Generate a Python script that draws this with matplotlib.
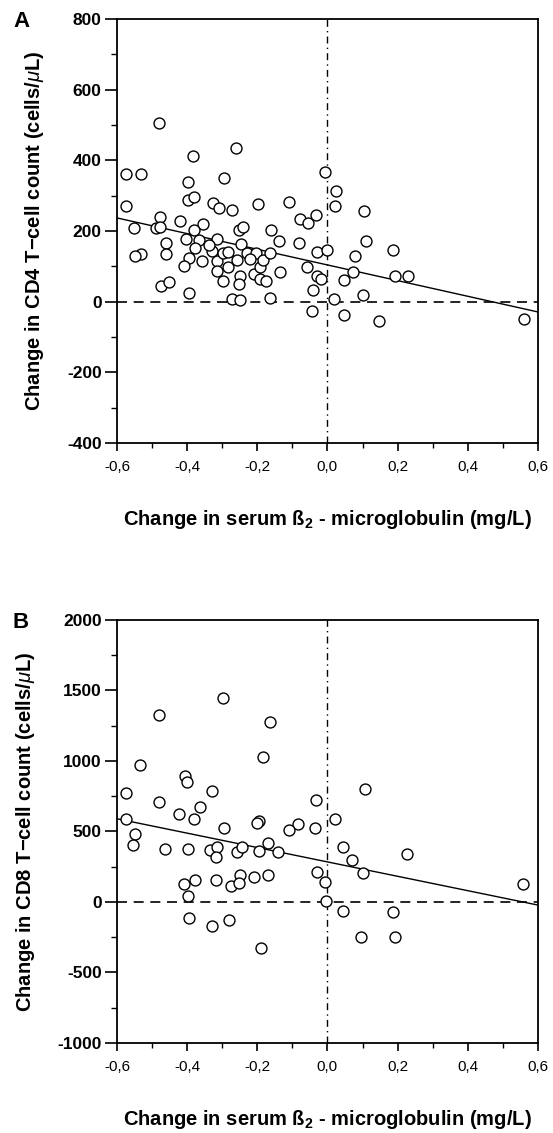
import numpy as np
import matplotlib
matplotlib.use("Agg")
import matplotlib.pyplot as plt
from matplotlib.ticker import MultipleLocator, FuncFormatter

# datos (panel A: CD4, panel B: CD8)
cd4_x = [-0.479, -0.262, -0.382, -0.574, -0.531, -0.008, -0.398, -0.294, 0.024, -0.574,
         -0.398, -0.381, -0.325, -0.309, -0.271, -0.197, -0.109, 0.023, 0.103, -0.478,
         -0.420, -0.078, -0.056, -0.034, -0.552, -0.488, -0.478, -0.356, -0.380, -0.161,
         -0.251, -0.240, -0.461, -0.402, -0.316, -0.139, -0.082, -0.246, -0.366, -0.377,
         -0.461, -0.532, -0.549, -0.394, -0.410, -0.358, -0.329, -0.316, -0.316, -0.299,
         -0.283, -0.283, -0.299, -0.259, -0.249, -0.251, -0.271, -0.249, -0.228, -0.210,
         -0.203, -0.192, -0.183, -0.192, -0.176, -0.164, -0.165, -0.134, -0.059, -0.030,
         -0.031, -0.019, -0.040, -0.002, 0.018, -0.474, -0.451, -0.394, 0.079, 0.109,
         0.187, 0.046, 0.074, 0.194, 0.231, 0.100, -0.043, 0.047, 0.147, 0.560,
         -0.338, -0.222]
cd4_y = [507, 434, 413, 360, 360, 368, 339, 349, 314, 271,
         288, 297, 278, 265, 260, 277, 282, 272, 257, 240,
         229, 235, 224, 245, 208, 209, 210, 220, 203, 203,
         204, 212, 166, 176, 177, 172, 167, 164, 175, 152,
         135, 136, 130, 124, 102, 114, 144, 114, 86, 138,
         142, 98, 58, 119, 74, 50, 9, 4, 138, 79,
         138, 98, 119, 64, 59, 138, 10, 83, 99, 140,
         73, 65, 32, 146, 9, 44, 56, 25, 130, 172,
         145, 61, 83, 74, 72, 20, -27, -39, -54, -49,
         160, 120]

cd8_x = [-0.297, -0.481, -0.164, -0.185, -0.534, -0.407, -0.400, 0.106, -0.575, -0.328,
         -0.032, -0.481, -0.364, -0.422, -0.380, -0.575, 0.022, -0.195, -0.200, -0.084,
         -0.111, -0.036, -0.296, -0.548, -0.554, -0.464, -0.397, -0.335, -0.315, -0.317,
         -0.258, -0.243, -0.194, -0.170, -0.142, 0.043, 0.070, 0.102, 0.228, -0.031,
         -0.008, 0.557, -0.410, -0.379, -0.317, -0.248, -0.210, -0.169, -0.274, -0.252,
         -0.399, -0.003, 0.044, 0.187, -0.395, -0.330, -0.281, -0.189, 0.096, 0.193]
cd8_y = [1444, 1323, 1273, 1025, 971, 895, 852, 803, 772, 788,
         722, 708, 670, 627, 587, 587, 589, 575, 561, 552,
         509, 521, 521, 483, 403, 376, 376, 367, 391, 322,
         353, 388, 364, 419, 353, 391, 298, 206, 341, 211,
         140, 128, 126, 156, 156, 192, 180, 192, 114, 137,
         45, 7, -62, -73, -114, -168, -130, -327, -246, -246]

# recta de regresion (pendiente, ordenada)
cd4_fit = (-221.7, 104)
cd8_fit = (-510, 284)

xticks = [-0.6, -0.4, -0.2, 0.0, 0.2, 0.4, 0.6]
cd4_yticks = [-400, -200, 0, 200, 400, 600, 800]
cd8_yticks = [-1000, -500, 0, 500, 1000, 1500, 2000]

plt.rcParams['font.family'] = ['Liberation Sans', 'DejaVu Sans']
plt.rcParams['mathtext.fontset'] = 'custom'
plt.rcParams['mathtext.rm'] = 'Liberation Sans'
plt.rcParams['mathtext.it'] = 'Liberation Sans:italic'
plt.rcParams['mathtext.bf'] = 'Liberation Sans:bold'
plt.rcParams['axes.unicode_minus'] = False

fig = plt.figure(figsize=(5.53, 11.33), dpi=100)


def panel(rect, xs, ys, fit, yticks, ylabel, letter):
    ax = fig.add_axes(rect)
    ax.scatter(xs, ys, s=62, facecolors='white', edgecolors='black', linewidths=1.0, zorder=3)

    # recta de ajuste
    xl = np.array([-0.6, 0.6])
    ax.plot(xl, fit[0] * xl + fit[1], color='black', lw=1.0, zorder=2)

    # lineas de referencia
    ax.axhline(0, color='black', lw=1.2, ls=(0, (6, 4)), zorder=1)
    ax.axvline(0, color='black', lw=1.0, ls=(0, (5, 3, 1, 3)), zorder=1)

    ax.set_xlim(-0.6, 0.6)
    ax.set_ylim(yticks[0], yticks[-1])
    ax.set_xticks(xticks)
    ax.set_yticks(yticks)
    ax.xaxis.set_minor_locator(MultipleLocator(0.1))
    ax.yaxis.set_minor_locator(MultipleLocator((yticks[1] - yticks[0]) / 2))
    ax.xaxis.set_major_formatter(FuncFormatter(lambda v, p: f'{v:.1f}'.replace('.', ',')))

    ax.tick_params(axis='y', which='major', direction='out', length=9, width=1.2, pad=2)
    ax.tick_params(axis='y', which='minor', direction='out', length=4, width=1.0)
    ax.tick_params(axis='x', which='major', direction='out', length=6, width=1.2, pad=6)
    ax.tick_params(axis='x', which='minor', direction='out', length=3.5, width=1.0)

    for lab in ax.get_yticklabels():
        lab.set_fontweight('bold')
        lab.set_fontsize(12.5)
    for lab in ax.get_xticklabels():
        lab.set_fontsize(11)

    for sp in ax.spines.values():
        sp.set_linewidth(1.3)

    ax.set_ylabel(ylabel, fontsize=14.5, fontweight='bold', labelpad=15)
    ax.set_xlabel('Change in serum ß$\\mathregular{_2}$ - microglobulin (mg/L)', fontsize=14.5,
                  fontweight='bold', labelpad=25)
    fig.text(0.038, rect[1] + rect[3] - 0.002, letter, fontsize=16, fontweight='bold',
             ha='center', va='center')
    return ax


panel([0.2116, 0.609, 0.761, 0.3742], cd4_x, cd4_y, cd4_fit, cd4_yticks,
      'Change in CD4 T\u2212cell count (cells/$\\mu$L)', 'A')
panel([0.2116, 0.0795, 0.761, 0.3733], cd8_x, cd8_y, cd8_fit, cd8_yticks,
      'Change in CD8 T\u2212cell count (cells/$\\mu$L)', 'B')

plt.savefig('out.png', dpi=100)
